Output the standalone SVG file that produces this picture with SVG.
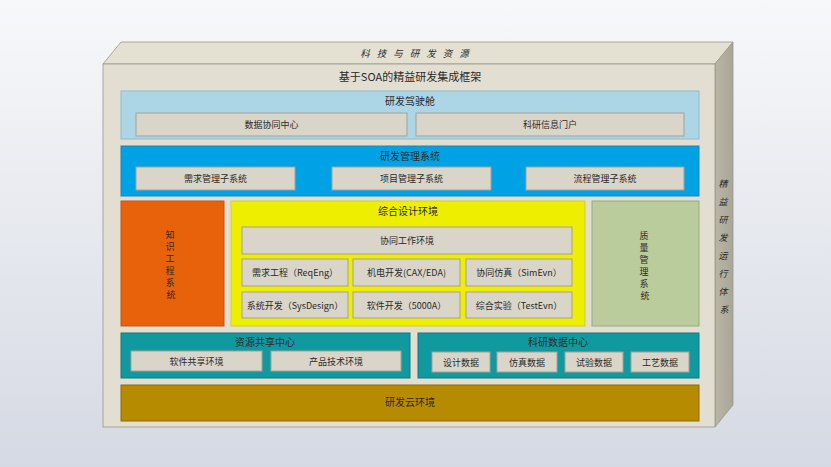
<svg xmlns="http://www.w3.org/2000/svg" width="831" height="467" viewBox="0 0 831 467">
  <defs>
    <linearGradient id="bg" x1="0" y1="0" x2="0" y2="1">
      <stop offset="0" stop-color="#f7f8fa"/>
      <stop offset="1" stop-color="#d5d9e3"/>
    </linearGradient>
    <linearGradient id="side" x1="0" y1="0" x2="1" y2="0">
      <stop offset="0" stop-color="#b9b5a7"/>
      <stop offset="1" stop-color="#a9a597"/>
    </linearGradient>
  </defs>
  <style>
    text { font-family: "Noto Sans CJK SC", "Noto Sans", sans-serif; fill: #2a2a2a; text-anchor: middle; }
    .sub { fill: #dad5c9; stroke: #a4a198; stroke-width: 1; }
    .lbl { font-size: 9px; }
    .ttl { font-size: 10px; }
    .vert { font-size: 9px; }
    .panel { stroke-width: 1; }
  </style>
  <rect x="0" y="0" width="831" height="467" fill="url(#bg)"/>

  <g id="box">
    <polygon points="103,64 121,42 733,42 715,64" fill="#e4e0d2" stroke="#9a978c" stroke-width="0.8"/>
    <polygon points="715,64 733,42 733,405 715,427" fill="url(#side)" stroke="#9a978c" stroke-width="0.8"/>
    <rect x="103" y="64" width="612" height="363" fill="#e2ded1" stroke="#9a978c" stroke-width="0.8"/>
    <text x="418" y="57" font-size="9.5" font-style="italic" letter-spacing="7" fill="#444">科技与研发资源</text>
    <text x="410" y="81" font-size="11" fill="#222">基于SOA的精益研发集成框架</text>
    <text class="vert" font-style="italic" fill="#444">
      <tspan x="724" y="187">精</tspan>
      <tspan x="724" y="205">益</tspan>
      <tspan x="724" y="223">研</tspan>
      <tspan x="724" y="241">发</tspan>
      <tspan x="724" y="259">运</tspan>
      <tspan x="724" y="277">行</tspan>
      <tspan x="724" y="295">体</tspan>
      <tspan x="724" y="313">系</tspan>
    </text>
  </g>

  <g id="cockpit">
    <rect class="panel" x="121" y="91" width="578" height="48" fill="#acd6e6" stroke="#8fbccc"/>
    <text class="ttl" x="410" y="105">研发驾驶舱</text>
    <rect class="sub" x="136" y="113" width="271" height="23"/>
    <text class="lbl" x="271.5" y="128">数据协同中心</text>
    <rect class="sub" x="416" y="113" width="268" height="23"/>
    <text class="lbl" x="550" y="128">科研信息门户</text>
  </g>

  <g id="mgmt">
    <rect class="panel" x="121" y="146" width="578" height="50" fill="#00a2e6" stroke="#1b86b8"/>
    <text class="ttl" x="410" y="160">研发管理系统</text>
    <rect class="sub" x="136" y="167" width="159" height="23"/>
    <text class="lbl" x="215.5" y="182">需求管理子系统</text>
    <rect class="sub" x="332" y="167" width="159" height="23"/>
    <text class="lbl" x="411.5" y="182">项目管理子系统</text>
    <rect class="sub" x="526" y="167" width="158" height="23"/>
    <text class="lbl" x="605" y="182">流程管理子系统</text>
  </g>

  <g id="knowledge">
    <rect class="panel" x="121" y="201" width="103" height="125" fill="#e8620c" stroke="#c0541a"/>
    <text class="vert">
      <tspan x="171" y="238">知</tspan>
      <tspan x="171" y="250">识</tspan>
      <tspan x="171" y="262">工</tspan>
      <tspan x="171" y="274">程</tspan>
      <tspan x="171" y="286">系</tspan>
      <tspan x="171" y="298">统</tspan>
    </text>
  </g>

  <g id="design">
    <rect class="panel" x="231" y="201" width="354" height="125" fill="#eeee00" stroke="#cfcf30"/>
    <text class="ttl" x="408" y="215">综合设计环境</text>
    <rect class="sub" x="242" y="227" width="330" height="27"/>
    <text class="lbl" x="407" y="244">协同工作环境</text>
    <rect class="sub" x="242" y="259" width="106" height="27"/>
    <text class="lbl" x="295" y="276">需求工程（ReqEng）</text>
    <rect class="sub" x="353" y="259" width="107" height="27"/>
    <text class="lbl" x="406.5" y="276">机电开发(CAX/EDA)</text>
    <rect class="sub" x="466" y="259" width="106" height="27"/>
    <text class="lbl" x="519" y="276">协同仿真（SimEvn）</text>
    <rect class="sub" x="242" y="292" width="106" height="26"/>
    <text class="lbl" x="295" y="308.5">系统开发（SysDesign）</text>
    <rect class="sub" x="353" y="292" width="107" height="26"/>
    <text class="lbl" x="406.5" y="308.5">软件开发（5000A）</text>
    <rect class="sub" x="466" y="292" width="106" height="26"/>
    <text class="lbl" x="519" y="308.5">综合实验（TestEvn）</text>
  </g>

  <g id="quality">
    <rect class="panel" x="592" y="201" width="107" height="125" fill="#bacb9c" stroke="#9aaa80"/>
    <text class="vert">
      <tspan x="645" y="239">质</tspan>
      <tspan x="645" y="251">量</tspan>
      <tspan x="645" y="263">管</tspan>
      <tspan x="645" y="275">理</tspan>
      <tspan x="645" y="287">系</tspan>
      <tspan x="645" y="299">统</tspan>
    </text>
  </g>

  <g id="resource">
    <rect class="panel" x="121" y="333" width="289" height="45" fill="#109aa0" stroke="#0c7a80"/>
    <text class="ttl" x="265" y="346">资源共享中心</text>
    <rect class="sub" x="131" y="351" width="131" height="20"/>
    <text class="lbl" x="196.5" y="364.5">软件共享环境</text>
    <rect class="sub" x="271" y="351" width="130" height="20"/>
    <text class="lbl" x="336" y="364.5">产品技术环境</text>
  </g>

  <g id="datacenter">
    <rect class="panel" x="418" y="333" width="281" height="45" fill="#109aa0" stroke="#0c7a80"/>
    <text class="ttl" x="558" y="346">科研数据中心</text>
    <rect class="sub" x="432" y="352" width="58" height="20"/>
    <text class="lbl" x="461" y="365.5">设计数据</text>
    <rect class="sub" x="497" y="352" width="60" height="20"/>
    <text class="lbl" x="527" y="365.5">仿真数据</text>
    <rect class="sub" x="565" y="352" width="58" height="20"/>
    <text class="lbl" x="594" y="365.5">试验数据</text>
    <rect class="sub" x="631" y="352" width="58" height="20"/>
    <text class="lbl" x="660" y="365.5">工艺数据</text>
  </g>

  <g id="cloud">
    <rect class="panel" x="121" y="385" width="578" height="36" fill="#b78b00" stroke="#8c6c10"/>
    <text class="ttl" x="410" y="406">研发云环境</text>
  </g>

  <g id="connectors"></g>
</svg>
